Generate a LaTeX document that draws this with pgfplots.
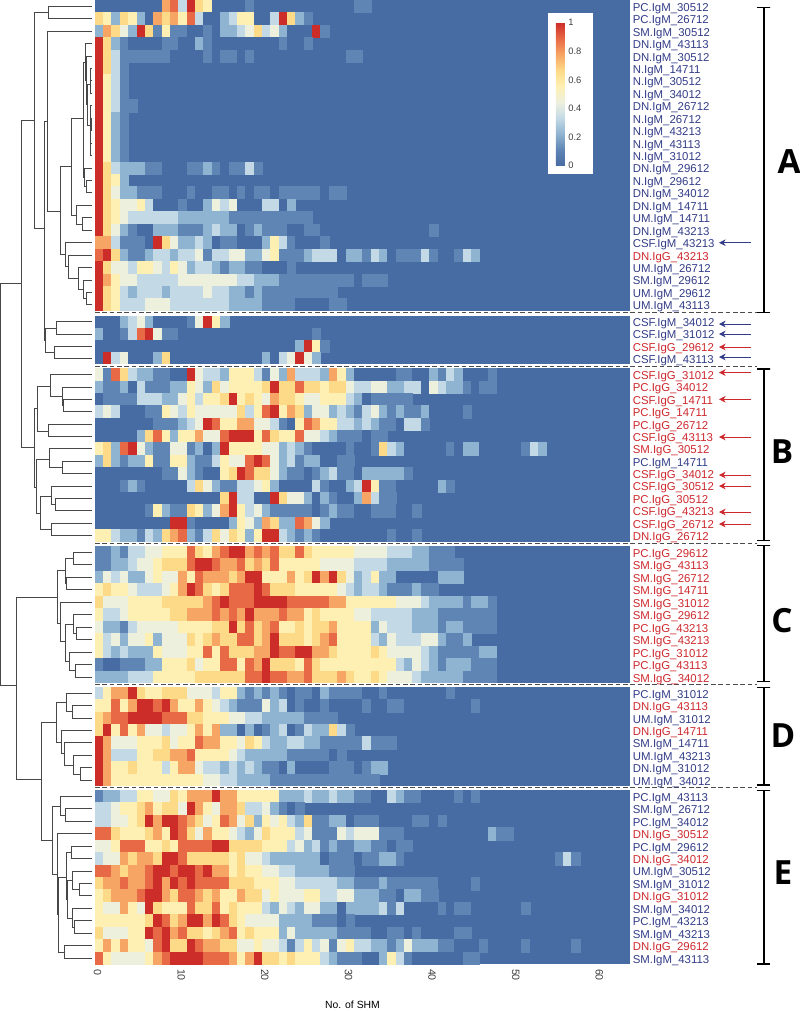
\documentclass[border=0pt]{standalone}
\usepackage{pgfplots}
\pgfplotsset{compat=1.18}
\usepackage{fontspec}
\setmainfont{Liberation Sans}
\newfontfamily\lettersf{Open Sans}
\usetikzlibrary{arrows.meta}
\definecolor{lblue}{RGB}{50,60,135}
\definecolor{lred}{RGB}{205,40,45}
\newcount\cx
\pgfplotsset{cell/.style={scatter,only marks,mark=square*,mark size=1pt,point meta=explicit,
  mark options={xscale=3.135,yscale=4.72,line width=0.1pt},
  scatter/use mapped color={draw=mapped color,fill=mapped color}}}
% one heat-map row: #1 = row position, #2 = values of columns 0,1,2,... (later columns are 0)
\newcommand\R[2]{\cx=0 \def\rowc{}\pgfplotsforeachungrouped \v in {#2}{\edef\rowc{\rowc (\the\cx,#1) [\v] }\advance\cx by 1 }\edef\tmp{\noexpand\addplot[cell] coordinates {\rowc};}\tmp}
\newcommand\U[5]{\addplot[dend] coordinates {(#3,#2)(#1,#2)(#1,#4)(#5,#4)};}
\newcommand\Br[2]{\addplot[black,line width=1.1pt] coordinates {(757,#1)(770,#1)(764,#1)(764,#2)(757,#2)(770,#2)};}
\newcommand\Ar[2]{\addplot[#2,line width=0.6pt,-{Stealth[length=5pt,width=5pt]}] coordinates {(750.7,#1)(719,#1)};}
\newcommand\Gap[2]{\addplot[draw=none,fill=white] coordinates {(94,#1)(631,#1)(631,#2)(94,#2)} -- cycle;}
\newcommand\Da[1]{\addplot[black!70,line width=0.7pt,dash pattern=on 3.5pt off 2pt] coordinates {(95,#1)(757,#1)};}
\newcommand\Lb[2]{\node[anchor=base west,inner sep=0pt,text=lblue,font=\fontsize{8.55}{9}\selectfont] at (axis cs:632.5,#1+5) {#2};}
\newcommand\Lr[2]{\node[anchor=base west,inner sep=0pt,text=lred,font=\fontsize{8.55}{9}\selectfont] at (axis cs:632.5,#1+5) {#2};}
\newcommand\Let[3]{\node[font=\lettersf\bfseries\fontsize{25}{25}\selectfont] at (axis cs:#1,#2) {#3};}
\begin{document}
\begin{tikzpicture}
\useasboundingbox (0,0) rectangle (600pt,758.25pt);
\begin{axis}[
  at={(71.1pt,35.03pt)},anchor=south west,scale only axis,width=401.03pt,height=723.2pt,
  xmin=-0.5,xmax=63.45,ymin=0,ymax=964.3,y dir=reverse,
  axis background/.style={fill={rgb,255:red,70;green,108;blue,163}},
  axis line style={draw=none},major tick length=0pt,
  ytick=\empty,xtick={0,10,...,60},
  /pgf/number format/assume math mode=true,
  xticklabel style={rotate=-90,anchor=west,font=\fontsize{8}{9}\selectfont,text=black!75,yshift=-1pt},
  xlabel={No. of SHM},
  xlabel style={at={(axis description cs:0.482,-0.0425)},anchor=center,font=\fontsize{7.8}{9}\selectfont},
  colormap={hm}{rgb255(0)=(70,108,163) rgb255(1)=(95,133,180) rgb255(2)=(143,180,209) rgb255(3)=(195,218,230) rgb255(4)=(238,240,222) rgb255(5)=(253,240,178) rgb255(6)=(253,218,135) rgb255(7)=(247,165,100) rgb255(8)=(232,105,70) rgb255(9)=(205,45,40)},
  point meta min=0,point meta max=9,
  colorbar,
  colorbar style={at={(0.8625,0.9765)},anchor=north west,scale only axis,width=6.75pt,height=107.2pt,
    y dir=normal,axis line style={draw=none},major tick length=0pt,
    ytick={0,1.8,3.6,5.4,7.2,9},yticklabels={0,0.2,0.4,0.6,0.8,1},
    yticklabel style={font=\fontsize{7}{8}\selectfont,text=black!75,xshift=-1pt}},
]
% A
\R{6.2}{0,0,0,0,0,0,0,0,7,8,3,9,6,5,0,0,0,0,1,0,0,0,0,0,0,0,0,0,0,0,0,1,1}
\R{18.7}{6,5,2,6,5,2,0,7,6,7,5,8,3,0,0,2,3,5,5,0,0,3,9,6,2,1}
\R{31.1}{2,7,6,4,2,9,6,1,5,1,1,0,0,1,0,2,2,3,4,6,3,4,2,0,0,0,9,1}
\R{43.5}{9,6,2,1,0,0,0,0,1,1,0,0,2,1,0,0,0,0,0,0,0,0,1,0,0,1}
\R{56}{9,6,3,1,1,1,1,1,1,0,0,0,0,1,0,1,1,0,1,0,0,0,0,0,0,0,0,0,0,0,1,1}
\R{68.4}{9,6,3,1}
\R{80.8}{9,5,3,1}
\R{93.3}{9,5,3,1}
\R{105.7}{9,5,3,1,1}
\R{118.2}{9,5,2,1}
\R{130.6}{9,5,2,1}
\R{143}{9,5,2,1}
\R{155.5}{9,5,2,1}
\R{167.9}{9,6,3,2,2,2,1,1,0,0,0,1,1,2,1,0,1,1,3,1}
\R{180.4}{9,6,5,2}
\R{192.8}{9,6,4,2,2,1,1,1,0,0,0,1,0,0,1,1,0,1,0,1,1,0,1,1,1,1,1,0,1,1}
\R{205.2}{9,6,5,4,4,5,3,0,0,0,1,0,0,2,4,3,4,0,0,0,3,3,0,2}
\R{217.7}{9,6,5,4,3,3,3,3,3,3,2,2,2,2,2,2,1,1,1,1,1,1,1,1,1,1}
\R{230.1}{9,6,4,2,1,0,0,2,2,2,1,1,1,2,3,2,2,0,1,2,1,1,1,0,0,1,1,0,0,0,0,0,0,0,0,0,0,0,0,0,1}
\R{242.6}{7,7,3,1,1,1,0,9,6,4,2,2,3,2,0,1,1,0,0,0,2,5,3,1,0,0,0,1}
\R{255}{8,9,6,2,1,1,2,3,3,2,3,3,4,1,3,3,4,4,2,2,4,5,1,1,1,2,3,3,3,0,2,2,1,3,2,0,1,1,1,3,1,0,0,1,3,2}
\R{267.4}{9,6,4,4,3,5,5,4,3,5,4,2,3,3,2,1,2,2,1,1,0,0,0,1}
\R{279.9}{9,7,5,4,4,3,3,3,3,3,4,4,4,4,4,4,4,3,3,2,2,2,1,1,1,1,1,1,1,1,1,0,1,1,1}
\R{292.3}{9,6,5,3,2,3,3,3,2,3,3,3,3,4,3,3,2,2,1,2,1,1,1,1,1,1,1,1,1}
\R{304.8}{9,6,5,3,3,3,4,4,4,3,3,3,3,3,3,3,2,2,2,2,1,1,1,1,0,0,0,0,1,1}
% CSF group
\R{321.8}{0,0,0,2,3,4,2,0,0,0,0,1,4,9,5,2}
\R{333.9}{2,0,0,1,3,8,9,4,1,1,0,0,0,0,0,0,0,0,0,0,0,0,0,0,0,0,1}
\R{346.1}{0,0,0,0,0,0,0,0,0,0,0,0,0,0,0,0,0,0,0,0,0,0,0,0,2,9,5,1}
\R{358.2}{0,9,3,4,0,0,0,2,6,0,0,0,0,0,0,0,0,0,0,0,2,0,3,4,9,4,2}
% B
\R{374.5}{4,1,8,6,3,2,2,1,1,0,0,9,4,3,3,2,5,5,5,3,1,4,2,7,3,3,3,2,7,5,2,0,0,0,0,0,1,1,0,0,2,1,3,2,0,0,0,1}
\R{386.9}{2,1,1,2,0,3,1,1,1,2,2,5,4,2,6,4,5,5,5,5,6,9,6,6,8,6,6,5,6,6,4,3,3,4,4,2,2,3,3,0,4,3,2,2,1,0,1,1}
\R{399.3}{0,1,1,1,1,3,3,3,2,2,4,5,3,5,5,6,9,5,6,5,4,7,6,6,5,4,4,5,5,5,3,2,0,1,1,1,1,1}
\R{411.6}{3,4,3,0,0,0,1,1,5,4,3,5,4,4,4,4,4,6,3,5,8,9,5,7,6,2,4,4,2,3,2,1,3,4,2,1,2,1,1,2,0,0,0,0,1}
\R{424}{0,0,0,0,0,0,0,1,1,1,2,3,4,9,8,5,5,7,7,4,4,3,1,0,5,8,7,5,5,3,3,2,3,2,1,1,0,3,3,1}
\R{436.4}{0,0,0,0,0,2,6,8,5,2,5,5,7,4,4,8,9,9,9,5,8,6,5,5,8,4,4,3,2,1,1,1,0,1,1}
\R{448.8}{5,6,2,8,9,4,2,1,1,4,4,1,2,0,2,9,5,5,5,5,4,4,2,3,2,1,0,0,0,0,1,0,0,1,6,3,2,0,0,0,0,0,1,0,2,2,0,0,0,0,0,1,3,2}
\R{461.2}{2,6,2,1,2,2,5,1,1,5,5,2,1,1,3,5,4,4,8,9,8,4,2,3,1,2,2,0,0,1,1}
\R{473.6}{0,0,0,0,0,0,0,0,1,1,4,2,1,0,0,5,6,9,8,6,6,4,2,1,1,0,1,2,3,1,1,0,2,2,2,2,2,1}
\R{485.9}{0,0,0,1,2,1,0,0,0,0,0,3,6,4,2,1,1,3,3,4,5,2,0,0,0,0,3,1,0,0,2,3,9,5,1,1,0,0,0,0,0,2,1}
\R{498.3}{0,0,0,0,0,0,0,0,0,0,0,0,0,0,0,6,9,3,3,0,0,9,6,4,4,2,0,2,1,0,0,2,7,3,1,1}
\R{510.7}{0,0,0,0,0,0,1,5,2,1,1,6,5,2,4,7,9,5,3,4,2,1,1,1,1,1,0,1,2,1,1,0,0,1,1,1,0,0,1}
\R{523.1}{0,0,0,0,0,0,0,0,0,9,9,1,0,0,0,0,2,5,4,2,7,6,2,2,8,7,4,2}
\R{535.5}{5,5,3,2,2,1,3,2,6,7,8,2,1,3,6,4,6,5,2,5,9,9,3,2,1,2,1,0,0,0,0,0,0,0,0,1,0,0,1}
% C
\R{552}{1,1,2,1,3,3,4,4,5,5,5,8,6,5,7,8,9,9,7,8,7,8,6,6,8,6,5,5,5,5,5,4,4,4,4,3,3,3,2,2,1,1,1}
\R{564.5}{1,1,2,2,3,4,4,5,6,6,6,8,9,9,8,7,7,8,6,7,6,8,5,5,5,5,5,4,4,4,4,3,3,3,3,2,2,2,2,2,1,1,1,1}
\R{577}{2,4,3,4,2,2,4,5,4,4,7,5,8,7,7,7,6,7,9,9,5,5,5,7,5,6,9,7,9,6,4,2,3,5,2,2,0,0,0,0,0,2,2,2}
\R{589.5}{5,6,5,5,4,3,3,3,4,5,7,9,8,6,5,6,8,8,8,9,8,6,6,6,5,5,5,5,5,4,3,2,3,3,2,1,1,1,2,1,1}
\R{602}{6,4,4,4,5,5,5,5,6,6,6,6,6,7,8,9,8,8,8,9,9,9,9,8,8,8,8,8,7,7,5,5,5,5,5,5,4,4,4,3,2,2,2,2,1,2,2,1}
\R{614.5}{5,3,3,4,5,5,5,5,5,6,6,7,7,7,8,7,8,7,9,7,7,7,8,7,7,5,6,5,5,5,5,4,4,3,3,3,3,3,2,2,2,1,1,1,1,1,1,1}
\R{627}{4,2,2,1,3,4,4,4,4,4,5,5,5,5,6,6,9,6,8,6,7,8,5,5,6,5,6,6,7,5,5,5,5,2,4,3,3,3,2,2,2,1,2,2,1,1,1,1}
\R{639.5}{5,3,4,2,4,4,5,2,4,4,4,6,5,6,7,6,6,8,8,6,7,9,6,6,6,5,6,7,8,5,5,5,5,3,2,4,3,3,3,4,4,2,1,1,2}
\R{652}{5,3,2,3,2,2,2,5,4,4,4,5,5,8,5,8,6,6,6,7,7,9,8,8,9,9,7,7,6,5,5,5,5,6,5,4,4,4,4,3,2,1,1,1,1,1,2,2}
\R{664.5}{1,0,0,1,1,1,2,2,5,5,5,6,4,5,5,8,8,5,8,7,9,6,6,6,5,8,6,5,5,5,5,5,5,5,5,5,3,2,4,3,2,1,2,2,2,1,1,1}
\R{677}{2,2,2,2,3,3,3,5,5,5,5,5,6,6,6,6,6,6,8,8,9,8,8,7,7,8,6,6,6,7,6,5,5,6,5,4,4,4,3,2,2,2,2,2,1,1,1,1}
% D
\R{693.2}{3,5,7,7,9,6,5,5,6,6,6,4,4,4,3,5,5,2,1,2,1,2,1,0,1,1,0,2,1,1,1,1,0,0,1,0,0,0,0,0,0,0,1}
\R{705.6}{5,5,8,5,7,9,9,8,9,7,5,5,7,5,4,3,2,1,1,1,4,2,3,0,1,0,0,1,0,0,0,0,1,0,0,1,1,0,0,0,0,0,0,0,0,1}
\R{718}{6,7,8,8,9,9,9,9,8,8,8,6,6,5,5,5,4,4,3,3,2,2,2,2,2,1,1,1,1}
\R{730.4}{6,9,5,8,5,7,4,4,3,4,4,5,7,5,7,2,2,0,2,0,1,2,3,0,1,3,2,2,6,3,1}
\R{742.8}{9,7,4,4,4,5,5,5,6,4,5,5,8,7,7,5,5,4,6,5,3,2,2,3,3,2,2,1,1,1,1,1,3,1,1,1}
\R{755.2}{9,7,3,3,3,5,5,6,6,7,7,8,5,5,5,5,4,3,2,2,2,2,2,1,1,1,1,1,0,1}
\R{767.6}{9,7,5,5,6,5,5,5,3,5,7,7,4,3,3,2,3,2,3,2,1,1,0,2,0,0,0,0,1,1,1,0,1,2,2}
\R{780}{9,7,5,5,5,5,5,5,5,5,5,5,5,4,4,3,3,2,2,2,2,1,1,1,1,1,1,1,1,1,1,1,1,1}
% E
\R{796.2}{1,2,2,3,3,5,5,4,4,6,5,7,7,7,9,7,7,5,5,5,5,5,2,2,2,3,2,2,3,2,2,1,1,0,0,3,2,1,1,0,0,0,0,1,0,1}
\R{808.7}{3,3,4,5,5,6,7,5,6,6,4,9,7,5,4,7,7,6,3,3,4,2,1,0,1}
\R{821.1}{3,3,4,4,5,6,9,7,9,9,8,7,6,4,5,8,7,4,6,2,5,4,5,3,2,6,1,1,2,2,0,1,1,1,0,0,0,0,1,1,0,1}
\R{833.6}{8,8,6,5,5,5,6,7,5,9,8,6,4,7,5,5,4,3,2,4,6,5,5,5,3,4,1,1,1,4,3,4,4,4,1,1,1,0,0,0,0,0,0,0,0,0,0,2,1,1}
\R{846}{4,4,5,8,8,8,5,5,6,5,8,8,8,8,9,9,6,6,6,6,5,5,5,3,4,2,3,1,2,1,1,2,2,1,1,0,1,1}
\R{858.4}{3,4,4,7,6,7,7,6,9,9,8,6,6,6,6,6,5,6,4,4,3,2,2,2,2,2,2,0,1,1,1,0,1,1,2,2,1,0,0,0,0,0,0,0,0,0,0,0,0,0,0,0,0,0,0,1,3,1}
\R{870.9}{8,8,7,6,7,7,8,9,9,8,9,9,8,9,7,7,5,6,5,5,4,4,3,3,2,2,2,2,1,1,1}
\R{883.3}{6,7,7,8,7,7,8,9,7,9,8,9,8,8,8,8,6,6,6,5,5,5,4,4,3,3,3,3,3,2,2,1,1,1,2,1,1,1,1,1,1,0,0,0,0,1}
\R{895.8}{5,6,7,7,7,8,9,9,7,6,8,8,7,6,7,5,5,7,6,6,4,5,4,4,4,5,5,3,3,4,4,2,2,2,1,1,0,2,2,1,1}
\R{908.2}{5,4,4,7,5,4,9,6,5,5,5,8,6,6,8,5,6,5,5,5,3,2,4,3,2,4,4,2,2,0,2,2,2,2,3,1,3,0,0,0,0,1,0,1,1,0,0,0,0,0,0,1}
\R{920.7}{5,5,5,5,5,5,6,9,8,6,7,9,9,7,9,8,6,5,4,4,4,4,2,2,2,2,1,1,1,0,1}
\R{933.1}{6,4,4,4,5,5,9,8,9,7,8,6,6,5,6,7,8,5,6,5,5,5,2,4,2,2,2,2,2,1,1,1,1,0,0,1,1,0,1,0,0,0,0,1,1}
\R{945.5}{5,7,5,7,5,5,4,8,9,6,6,9,8,7,7,6,6,4,4,5,4,4,3,1,3,5,3,4,1,4,5,3,3,2,2,1,2,4,2,2,2,1,1,0,0,0,1,0,0,0,0,1,0,0,0,0,0,1}
\R{958}{8,5,4,4,4,4,5,7,8,9,9,9,9,8,8,8,7,5,7,9,6,6,5,6,5,5,5,3,2,1,1,1,0,0,2,5,3,1,0,0,0,0,0,0,1,1}
\fill[white] (axis cs:53.71,13) rectangle (axis cs:59.09,174);
\end{axis}
\begin{axis}[at={(0pt,0pt)},anchor=south west,scale only axis,width=600pt,height=758.25pt,
  xmin=0,xmax=800,ymin=0,ymax=1011,y dir=reverse,hide axis,clip=false,
  dend/.style={black!72,line width=0.5pt}]
\U{48.5}{6.2}{92}{18.7}{92}
\U{34.7}{12.5}{48.5}{228}{44.5}
\U{21}{120}{34.7}{447}{34}
\U{0.5}{283}{21}{685}{16}
\U{44.5}{121}{47.7}{340}{45.3}
\U{47.7}{31.1}{92}{211}{60}
\U{60}{166}{71.3}{254.5}{65}
\U{71.3}{118}{83.5}{215}{76}
\U{83.5}{62}{85.5}{177}{84}
\U{85.5}{43.5}{92}{80}{86.5}
\U{86.5}{56}{92}{104}{87.5}
\U{87.5}{84}{90}{125}{90}
\U{90}{74.6}{90.5}{93.3}{92}
\U{90.5}{68.4}{92}{80.8}{92}
\U{90}{105.7}{92}{144}{90.2}
\U{90.2}{133}{90.5}{155.5}{92}
\U{90.5}{124}{91}{143}{92}
\U{91}{118.2}{92}{130.6}{92}
\U{84}{167.9}{92}{186}{86}
\U{86}{180.4}{92}{192.8}{92}
\U{76}{205.2}{92}{224}{82}
\U{82}{217.7}{92}{230.1}{92}
\U{65}{242.6}{92}{266.5}{68.7}
\U{68.7}{255}{92}{278}{78}
\U{78}{267.4}{92}{289}{83}
\U{83}{279.9}{92}{298.5}{86.5}
\U{86.5}{292.3}{92}{304.8}{92}
\U{45.3}{328}{56.7}{352}{54.3}
\U{56.7}{321.8}{92}{333.9}{92}
\U{54.3}{346.1}{92}{358.2}{92}
\U{34}{408}{37}{487}{36.3}
\U{37}{386}{50.3}{431}{48}
\U{50.3}{374.5}{92}{396}{62.7}
\U{62.7}{386.9}{92}{405}{63.3}
\U{63.3}{399.3}{92}{411.6}{92}
\U{48}{424}{92}{436.4}{92}
\U{36.3}{459}{49.7}{513}{40.3}
\U{49.7}{448.8}{92}{467.4}{62.7}
\U{62.7}{461.2}{92}{473.6}{92}
\U{40.3}{496}{51}{529}{51}
\U{51}{485.9}{92}{504.5}{55.3}
\U{55.3}{498.3}{92}{510.7}{92}
\U{51}{523.1}{92}{535.5}{92}
\U{16}{597}{57.7}{779}{41}
\U{57.7}{570.7}{65.5}{623}{60.5}
\U{65.5}{558}{73}{583}{66}
\U{73}{552}{92}{564.5}{92}
\U{66}{577}{92}{589.5}{92}
\U{60.5}{602}{92}{641.7}{65.7}
\U{65.7}{624}{73}{661}{69}
\U{73}{614.5}{92}{633}{76}
\U{76}{627}{92}{639.5}{92}
\U{69}{652}{92}{670.5}{75.5}
\U{75.5}{664.5}{92}{677}{92}
\U{41}{722}{56.7}{840}{52.7}
\U{56.7}{702.7}{66.7}{742.7}{61.7}
\U{66.7}{693.2}{92}{711.8}{72.7}
\U{72.7}{705.6}{92}{718}{92}
\U{61.7}{730.4}{92}{753}{64.3}
\U{64.3}{742.8}{92}{765}{73.3}
\U{73.3}{755.2}{92}{774}{80.3}
\U{80.3}{767.6}{92}{780}{92}
\U{52.7}{806}{60.5}{874}{57.3}
\U{60.5}{796.2}{92}{815}{65.3}
\U{65.3}{808.7}{92}{821.1}{92}
\U{57.3}{833.6}{92}{914}{58.3}
\U{58.3}{877}{66}{952}{64}
\U{64}{945.5}{92}{958}{92}
\U{66}{852.7}{71}{899}{67.5}
\U{71}{846}{92}{858.4}{92}
\U{67.5}{880}{72.3}{918}{72}
\U{72.3}{870.9}{92}{889.5}{79.3}
\U{79.3}{883.3}{92}{895.8}{92}
\U{72}{908.2}{92}{927}{74.7}
\U{74.7}{920.7}{92}{933.1}{92}
\Gap{311}{315.7}\Gap{364.3}{368.3}\Gap{541.7}{545.7}\Gap{683.3}{687}\Gap{786}{790}
\Da{312.7}\Da{366}\Da{543.7}\Da{684.8}\Da{787.7}
\Br{7.7}{312.3}\Br{369}{540.7}\Br{545.7}{681.7}\Br{687.3}{785}\Br{790.7}{964}
\Ar{242.7}{lblue}\Ar{324}{lblue}\Ar{334}{lblue}\Ar{347}{lred}\Ar{357}{lblue}
\Ar{372.5}{lred}\Ar{399.3}{lred}\Ar{437}{lred}\Ar{475}{lred}\Ar{486}{lred}\Ar{512}{lred}\Ar{524}{lred}
\Let{789}{162}{A}\Let{782}{452}{B}\Let{782}{621}{C}\Let{783}{736}{D}\Let{783}{873}{E}
\Lb{6.2}{PC.IgM\_30512}\Lb{18.7}{PC.IgM\_26712}\Lb{31.1}{SM.IgM\_30512}\Lb{43.5}{DN.IgM\_43113}\Lb{56}{DN.IgM\_30512}
\Lb{68.4}{N.IgM\_14711}\Lb{80.8}{N.IgM\_30512}\Lb{93.3}{N.IgM\_34012}\Lb{105.7}{DN.IgM\_26712}\Lb{118.2}{N.IgM\_26712}
\Lb{130.6}{N.IgM\_43213}\Lb{143}{N.IgM\_43113}\Lb{155.5}{N.IgM\_31012}\Lb{167.9}{DN.IgM\_29612}\Lb{180.4}{N.IgM\_29612}
\Lb{192.8}{DN.IgM\_34012}\Lb{205.2}{DN.IgM\_14711}\Lb{217.7}{UM.IgM\_14711}\Lb{230.1}{DN.IgM\_43213}\Lb{242.6}{CSF.IgM\_43213}
\Lr{255}{DN.IgG\_43213}\Lb{267.4}{UM.IgM\_26712}\Lb{279.9}{SM.IgM\_29612}\Lb{292.3}{UM.IgM\_29612}\Lb{304.8}{UM.IgM\_43113}
\Lb{321.8}{CSF.IgM\_34012}\Lb{333.9}{CSF.IgM\_31012}\Lr{346.1}{CSF.IgG\_29612}\Lb{358.2}{CSF.IgM\_43113}
\Lr{374.5}{CSF.IgG\_31012}\Lr{386.9}{PC.IgG\_34012}\Lr{399.3}{CSF.IgG\_14711}\Lr{411.6}{PC.IgG\_14711}\Lr{424}{PC.IgG\_26712}
\Lr{436.4}{CSF.IgG\_43113}\Lr{448.8}{SM.IgG\_30512}\Lb{461.2}{PC.IgM\_14711}\Lr{473.6}{CSF.IgG\_34012}\Lr{485.9}{CSF.IgG\_30512}
\Lr{498.3}{PC.IgG\_30512}\Lr{510.7}{CSF.IgG\_43213}\Lr{523.1}{CSF.IgG\_26712}\Lr{535.5}{DN.IgG\_26712}
\Lr{552}{PC.IgG\_29612}\Lr{564.5}{SM.IgG\_43113}\Lr{577}{SM.IgG\_26712}\Lr{589.5}{SM.IgG\_14711}\Lr{602}{SM.IgG\_31012}
\Lr{614.5}{SM.IgG\_29612}\Lr{627}{PC.IgG\_43213}\Lr{639.5}{SM.IgG\_43213}\Lr{652}{PC.IgG\_31012}\Lr{664.5}{PC.IgG\_43113}\Lr{677}{SM.IgG\_34012}
\Lb{693.2}{PC.IgM\_31012}\Lr{705.6}{DN.IgG\_43113}\Lb{718}{UM.IgM\_31012}\Lr{730.4}{DN.IgG\_14711}\Lb{742.8}{SM.IgM\_14711}
\Lb{755.2}{UM.IgM\_43213}\Lb{767.6}{DN.IgM\_31012}\Lb{780}{UM.IgM\_34012}
\Lb{796.2}{PC.IgM\_43113}\Lb{808.7}{SM.IgM\_26712}\Lb{821.1}{PC.IgM\_34012}\Lr{833.6}{DN.IgG\_30512}\Lb{846}{PC.IgM\_29612}
\Lr{858.4}{DN.IgG\_34012}\Lb{870.9}{UM.IgM\_30512}\Lb{883.3}{SM.IgM\_31012}\Lr{895.8}{DN.IgG\_31012}\Lb{908.2}{SM.IgM\_34012}
\Lb{920.7}{PC.IgM\_43213}\Lb{933.1}{SM.IgM\_43213}\Lr{945.5}{DN.IgG\_29612}\Lb{958}{SM.IgM\_43113}
\end{axis}
\end{tikzpicture}
\end{document}
